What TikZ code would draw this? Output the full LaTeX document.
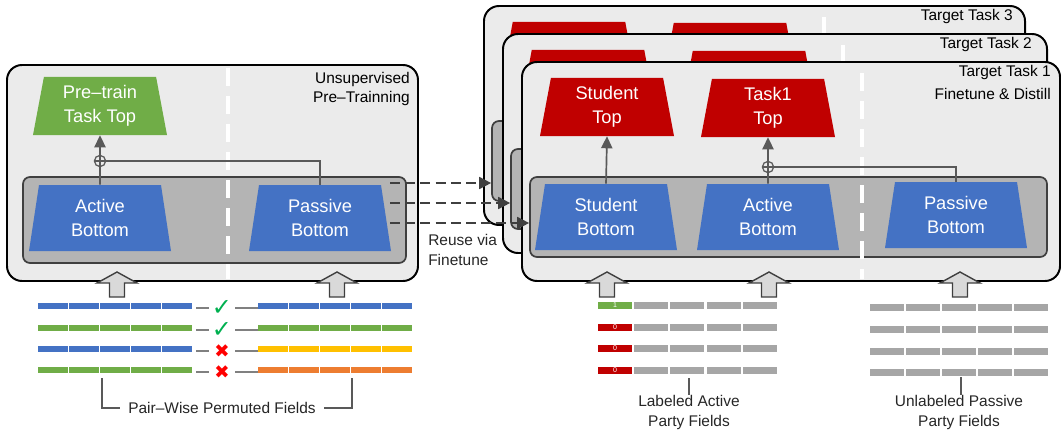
\documentclass[tikz,border=0pt]{standalone}
\usepackage{fontspec}
\setmainfont{Liberation Sans}
\newfontfamily\symfont{DejaVu Sans}
\usetikzlibrary{arrows.meta,shapes.geometric,fit}

\definecolor{panelfill}{HTML}{EBEBEB}
\definecolor{boxfill}{HTML}{B4B4B4}
\definecolor{dline}{HTML}{595959}
\definecolor{edge}{HTML}{3F3F3F}
\definecolor{botblue}{HTML}{4472C4}
\definecolor{topgreen}{HTML}{70AD47}
\definecolor{topred}{HTML}{C00000}
\definecolor{fieldgray}{HTML}{A6A6A6}
\definecolor{fieldyellow}{HTML}{FFC000}
\definecolor{fieldorange}{HTML}{ED7D31}
\definecolor{okgreen}{HTML}{00B050}
\definecolor{nored}{HTML}{FF0000}
\definecolor{arrfill}{HTML}{D9D9D9}

\tikzset{
  panel/.style={draw=black, fill=panelfill, line width=1.4pt, rounded corners=3.75mm},
  grp/.style={draw=edge, fill=boxfill, line width=1.2pt, rounded corners=1.75mm,
              inner sep=0pt},
  split/.style={draw=white, line width=2.2pt, dash pattern=on 4.5mm off 2.5mm},
  trap/.style={trapezium, trapezium angle=76, trapezium stretches body=true,
               inner sep=1pt, align=center, text=white,
               font=\fontsize{13}{17}\selectfont},
  toptrap/.style={trap, minimum width=33.5mm, minimum height=14.5mm},
  bottrap/.style={trap, fill=botblue, minimum width=35.5mm, minimum height=16.5mm},
  link/.style={draw=dline, line width=1.2pt},
  flow/.style={link, -{Triangle[length=3mm,width=2.8mm]}},
  sum/.style={circle, draw=dline, line width=0.9pt, minimum size=2.8mm, inner sep=0pt,
    path picture={\draw[dline, line width=0.9pt]
      (path picture bounding box.north) -- (path picture bounding box.south)
      (path picture bounding box.west) -- (path picture bounding box.east);}},
  plabel/.style={align=right, anchor=east, inner sep=0pt,
                 font=\fontsize{11}{13.5}\selectfont},
  reuse/.style={draw=edge, line width=1.2pt, dash pattern=on 2.5mm off 1.3mm,
                -{Triangle[length=3mm,width=3mm]}},
  blockup/.pic={\draw[draw=edge, fill=arrfill, line width=1pt]
    (0,0) -- (20,11) -- (7.5,11) -- (7.5,25) -- (-7.5,25) -- (-7.5,11)
    -- (-20,11) -- cycle;},
  flink/.style={draw=gray, line width=1.1pt},
  oksym/.style={text=okgreen, font=\symfont\fontsize{17}{17}\selectfont},
  nosym/.style={text=nored, font=\symfont\fontsize{13}{13}\selectfont},
  fieldtag/.style={minimum width=8.5mm, minimum height=1.75mm, inner sep=0pt,
                   text=white, font=\fontsize{5}{5}\selectfont},
  caption/.style={inner sep=0pt, align=center, text=black!85,
                  font=\fontsize{11}{14}\selectfont},
  brk/.style={draw=dline, line width=1.2pt},
}
% hidden panels keep the trapezium slant with an empty two-line box
\newcommand\frontonly[2]{\ifnum#1=1 #2\else\vphantom{Tp}\\\vphantom{Tp}\fi}

\begin{document}
\begin{tikzpicture}[x=0.25mm, y=-0.25mm]
\useasboundingbox (0,0) rectangle (1061,435);

% unsupervised pre-training
\draw[panel] (7,65) rectangle (418,281);
\node[grp, fit={(23,177) (406,263)}] (lgrp) {};
\draw[split] (228,68) -- (228,279);
\node[toptrap, fill=topgreen] (ptop) at (100,106) {Pre–train\\Task Top};
\node[bottrap] (labot) at (100,218) {Active\\Bottom};
\node[bottrap] (lpbot) at (320,218) {Passive\\Bottom};
\node[sum] (lsum) at (100,161) {};
\draw[link] (labot.north) -- (lsum.south);
\draw[flow] (lsum.north) -- (ptop.south);
\draw[link] (lpbot.north) |- (lsum.east);
\node[plabel] (ulbl) at (410,89) {Unsupervised\\Pre–Trainning};

% target tasks, back to front (the back ones are mostly hidden)
\foreach \n/\dx/\dy/\r in {3/-38/-56/1063, 2/-19/-28/1066, 1/0/0/1060} {
  \begin{scope}[shift={(\dx,\dy)}]
    \draw[panel] (522,62) rectangle (\r,281);
    \node[grp, fit={(530,177) (1047,257)}] (gbox\n) {};
    \draw[split] (862,73) -- (862,279);
    \node[toptrap, fill=topred] (stop\n) at (607,107) {\frontonly{\n}{Student\\Top}};
    \node[toptrap, fill=topred] (ttop\n) at (768,108) {\frontonly{\n}{Task1\\Top}};
    \node[plabel] (tlbl\n) at (1051,73) {Target Task \n};
  \end{scope}
}
\node[plabel] (fdlbl) at (1051,94) {Finetune \& Distill};
\node[bottrap] (sbot) at (606,217) {Student\\Bottom};
\node[bottrap] (abot) at (768,217) {Active\\Bottom};
\node[bottrap] (pbot) at (956,215) {Passive\\Bottom};
\node[sum] (tsum) at (768,167) {};
\draw[flow] (sbot.north) -- (stop1.south);
\draw[link] (abot.north) -- (tsum.south);
\draw[flow] (tsum.north) -- (ttop1.south);
\draw[link] (pbot.north) |- (tsum.east);

% reuse via finetune
\coordinate (ru1) at (390,183);
\coordinate (ru2) at (390,203);
\coordinate (ru3) at (390,223);
\draw[reuse] (ru1) -- (ru1 -| gbox3.west);
\draw[reuse] (ru2) -- (ru2 -| gbox2.west);
\draw[reuse] (ru3) -- (ru3 -| gbox1.west);
\node[caption, align=left, anchor=west] (reuselbl) at (428,250) {Reuse via\\Finetune};

% inputs
\foreach \x in {117, 337, 607, 769, 960}
  \pic at (\x,272) {blockup};

\foreach \i/\y/\lc/\rc/\st/\s in {1/306/botblue/botblue/oksym/✓,
    2/328/topgreen/topgreen/oksym/✓, 3/349/botblue/fieldyellow/nosym/✖,
    4/370/topgreen/fieldorange/nosym/✖} {
  \foreach \k in {0,...,4} {
    \fill[\lc] (38+31.1*\k,\y-3) rectangle ++(29.5,6);
    \fill[\rc] (258+31.1*\k,\y-3) rectangle ++(29.5,6);
  }
  \node[\st, inner sep=0pt, minimum width=6.5mm] (sym\i) at (222,\y+2) {\s};
  \draw[flink] (sym\i.west) -- ++(-13,0);
  \draw[flink] (sym\i.east) -- ++(23,0);
}
\node[caption, fill=white, inner xsep=2mm] (pwlbl) at (222,408)
  {Pair–Wise Permuted Fields};
\draw[brk] (102,378) |- (pwlbl.west);
\draw[brk] (352,378) |- (pwlbl.east);

\foreach \i/\y/\c/\v in {1/305/topgreen/1, 2/327/topred/0, 3/348/topred/0,
    4/370/topred/0} {
  \node[fieldtag, fill=\c] (tag\i) at (615,\y) {\v};
  \foreach \k in {1,...,4}
    \fill[fieldgray] (598+36.2*\k,\y-3.5) rectangle ++(34,7);
}
\foreach \y in {307, 329, 351, 372}
  \foreach \k in {0,...,4}
    \fill[fieldgray] (870+36*\k,\y-3.5) rectangle ++(34,7);

\node[caption, anchor=north] (actlbl) at (689,395) {Labeled Active\\Party Fields};
\draw[brk] (689,378) -- (actlbl.north);
\node[caption, anchor=north] (paslbl) at (959,395) {Unlabeled Passive\\Party Fields};
\draw[brk] (961,377) -- (paslbl.north -| 961,0);

\end{tikzpicture}
\end{document}
